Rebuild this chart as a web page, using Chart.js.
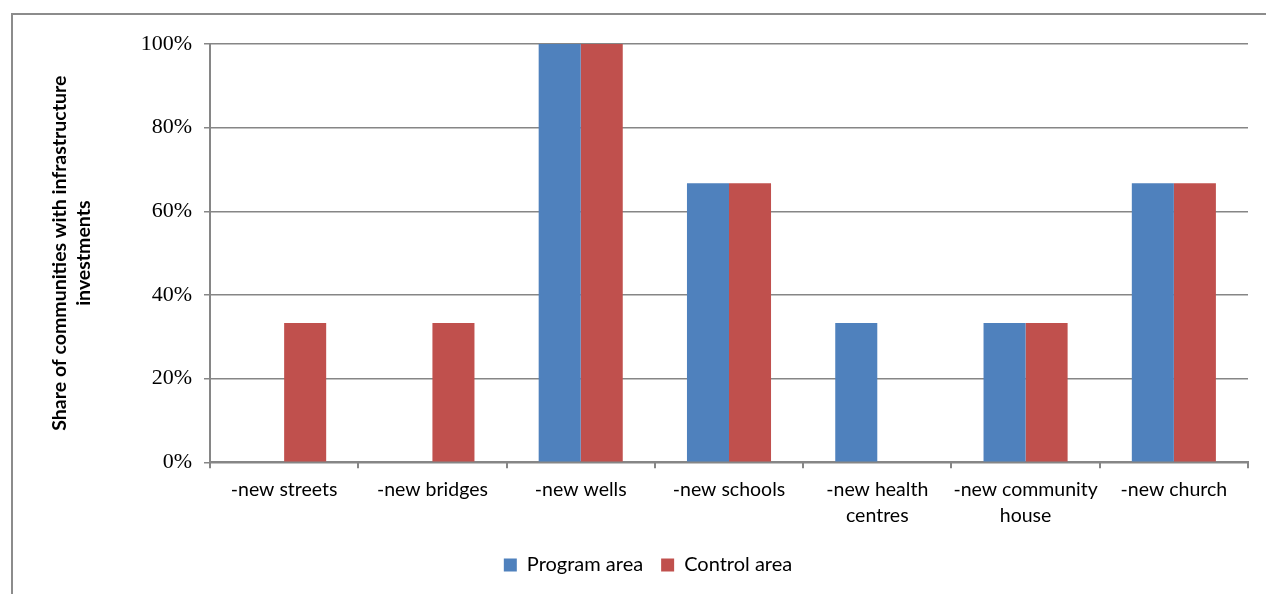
<!DOCTYPE html>
<html>
<head>
<meta charset="utf-8">
<script src="https://cdn.jsdelivr.net/npm/chart.js@4"></script>
<style>
  html, body { margin: 0; padding: 0; background: #fff; overflow: hidden; }
  #wrap { position: relative; width: 1266px; height: 594px; }
  #frame { position: absolute; left: 11px; top: 13px; width: 1300px; height: 700px;
           border: 2px solid #8c8c8c; box-sizing: border-box; }
  canvas { position: absolute; left: 0; top: 0; }
</style>
</head>
<body>
<div id="wrap">
  <div id="frame"></div>
  <canvas id="infraChart" width="1266" height="594"></canvas>
</div>
<script>
// Infrastructure investments by area (share of communities, %)
const categories = [
    '-new streets',
    '-new bridges',
    '-new wells',
    '-new schools',
    ['-new health', 'centres'],
    ['-new community', 'house'],
    '-new church'
];
const programArea = [0, 0, 100, 66.7, 33.3, 33.3, 66.7];
const controlArea = [33.3, 33.3, 100, 66.7, 0, 33.3, 66.7];
const yTicks = [0, 20, 40, 60, 80, 100];

const gridColor = '#868686';

document.addEventListener('DOMContentLoaded', function() {
    const ctx = document.getElementById('infraChart').getContext('2d');
    new Chart(ctx, {
        type: 'bar',
        data: {
            labels: categories,
            datasets: [{
                label: 'Program area',
                data: programArea,
                backgroundColor: '#4f81bd',
                barPercentage: 1,
                categoryPercentage: 0.567
            }, {
                label: 'Control area',
                data: controlArea,
                backgroundColor: '#c0504d',
                barPercentage: 1,
                categoryPercentage: 0.567
            }]
        },
        options: {
            responsive: false,
            animation: false,
            layout: { padding: { left: 48, right: 18, top: 44, bottom: 9 } },
            plugins: {
                tooltip: { enabled: false },
                legend: {
                    position: 'bottom',
                    labels: {
                        boxWidth: 13,
                        boxHeight: 13,
                        padding: 18,
                        color: '#000',
                        font: { family: 'Lato', size: 20 }
                    }
                }
            },
            scales: {
                x: {
                    grid: {
                        display: true,
                        drawOnChartArea: false,
                        color: gridColor,
                        lineWidth: 2,
                        tickLength: 6,
                        offset: true
                    },
                    border: { color: gridColor, width: 2 },
                    ticks: {
                        color: '#000',
                        maxRotation: 0,
                        padding: 9,
                        font: { family: 'Lato', size: 19.5, lineHeight: 1.3 }
                    }
                },
                y: {
                    min: 0,
                    max: 100,
                    afterBuildTicks: axis => { axis.ticks = yTicks.map(v => ({ value: v })); },
                    afterFit: axis => { axis.width = 162; },
                    grid: { color: gridColor, lineWidth: 1.5, tickLength: 6 },
                    border: { color: gridColor, width: 2 },
                    ticks: {
                        color: '#000',
                        padding: 12,
                        callback: v => v + '%',
                        font: { family: 'Liberation Serif', size: 22 }
                    },
                    title: {
                        display: true,
                        text: ['Share of communities with infrastructure', 'investments'],
                        color: '#000',
                        padding: 0,
                        font: { family: 'Lato', size: 19.5, weight: 'bold', lineHeight: 1.22 }
                    }
                }
            }
        }
    });
});
</script>
</body>
</html>
